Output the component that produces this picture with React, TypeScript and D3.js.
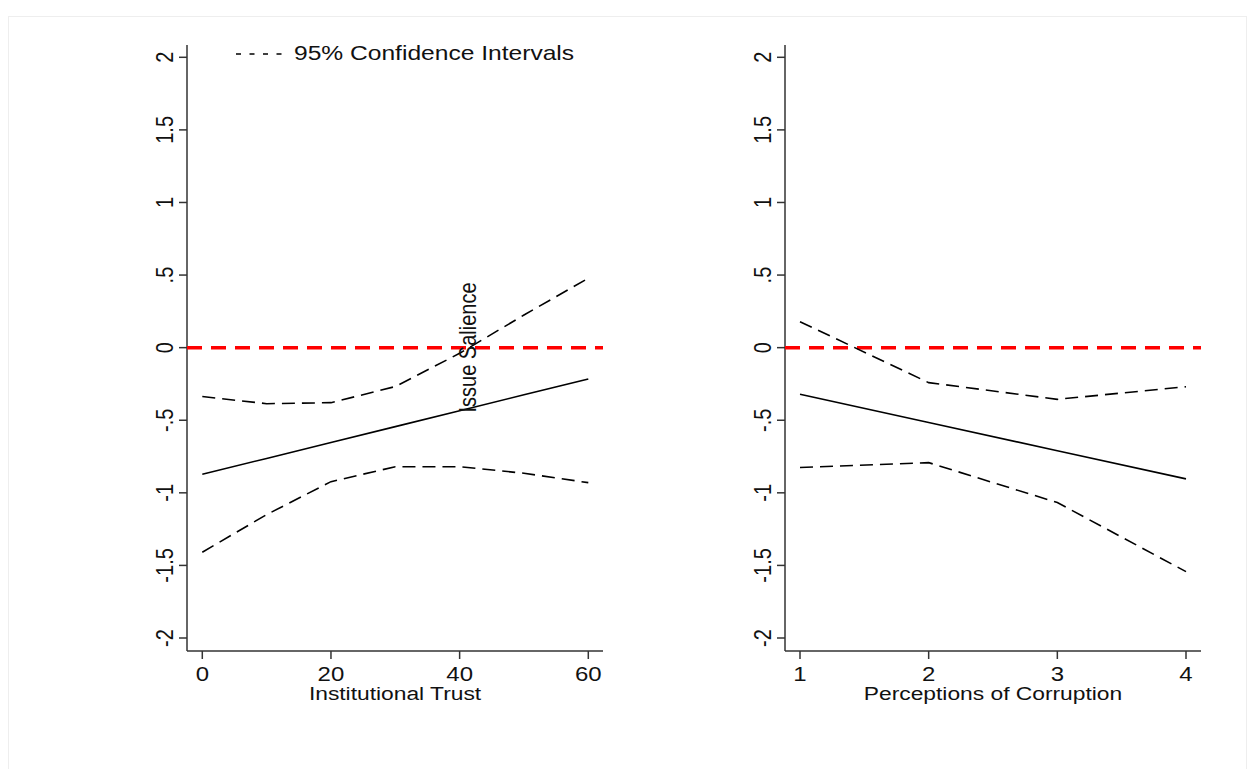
import React, { useEffect, useRef } from "react";
import * as d3 from "d3";

// left panel: institutional trust
const trustX = [0, 10, 20, 30, 40, 50, 60];
const trustEffect = [-0.872, -0.763, -0.653, -0.544, -0.435, -0.325, -0.216];
const trustUpper = [-0.337, -0.386, -0.379, -0.268, -0.039, 0.225, 0.478];
const trustLower = [-1.409, -1.15, -0.923, -0.82, -0.82, -0.865, -0.93];
const trustTicks = [0, 20, 40, 60];

// right panel: perceptions of corruption
const corrX = [1, 2, 3, 4];
const corrEffect = [-0.321, -0.515, -0.71, -0.904];
const corrUpper = [0.179, -0.241, -0.356, -0.269];
const corrLower = [-0.826, -0.792, -1.067, -1.543];
const corrTicks = [1, 2, 3, 4];

const yTicks = [-2, -1.5, -1, -0.5, 0, 0.5, 1, 1.5, 2];

const FONT = "'Liberation Sans', Arial, Helvetica, sans-serif";
const SX = 1.2; // text in the original is stretched horizontally

function fmt(v: number) {
	return String(v).replace("0.", ".");
}

export default function App() {
	const ref = useRef<SVGSVGElement>(null);

	useEffect(() => {
		const svg = d3.select(ref.current);
		svg.selectAll("*").remove();

		svg.append("rect")
			.attr("x", 8.5)
			.attr("y", 16.5)
			.attr("width", 1238)
			.attr("height", 770)
			.attr("fill", "none")
			.attr("stroke", "#eeeeee");

		const y = d3.scaleLinear().domain([-2, 2]).range([638, 57.3]);
		const axisTop = 45;
		const axisBottom = 651;

		const panels = [
			{
				xs: trustX, eff: trustEffect, up: trustUpper, lo: trustLower, ticks: trustTicks,
				domain: [0, 60], range: [202.3, 588.3], left: 187, right: 603,
				title: "Institutional Trust",
			},
			{
				xs: corrX, eff: corrEffect, up: corrUpper, lo: corrLower, ticks: corrTicks,
				domain: [1, 4], range: [800, 1186], left: 785, right: 1201,
				title: "Perceptions of Corruption",
			},
		];

		panels.forEach((p) => {
			const x = d3.scaleLinear().domain(p.domain).range(p.range);
			const g = svg.append("g");

			// axes
			g.append("line")
				.attr("x1", p.left).attr("x2", p.left)
				.attr("y1", axisTop).attr("y2", axisBottom)
				.attr("stroke", "#333").attr("stroke-width", 1.5);
			g.append("line")
				.attr("x1", p.left).attr("x2", p.right)
				.attr("y1", axisBottom).attr("y2", axisBottom)
				.attr("stroke", "#333").attr("stroke-width", 1.5);

			g.selectAll(".yt")
				.data(yTicks)
				.enter()
				.append("line")
				.attr("x1", p.left - 8).attr("x2", p.left)
				.attr("y1", (d) => y(d)).attr("y2", (d) => y(d))
				.attr("stroke", "#333").attr("stroke-width", 1.5);
			g.selectAll(".ytl")
				.data(yTicks)
				.enter()
				.append("text")
				.attr("transform", (d) => `translate(${p.left - 14},${y(d)}) scale(${SX},1) rotate(-90)`)
				.attr("text-anchor", "middle")
				.attr("font-family", FONT)
				.attr("font-size", 20)
				.attr("fill", "#111")
				.text((d) => fmt(d));

			g.selectAll(".xt")
				.data(p.ticks)
				.enter()
				.append("line")
				.attr("x1", (d) => x(d)).attr("x2", (d) => x(d))
				.attr("y1", axisBottom).attr("y2", axisBottom + 8)
				.attr("stroke", "#333").attr("stroke-width", 1.5);
			g.selectAll(".xtl")
				.data(p.ticks)
				.enter()
				.append("text")
				.attr("transform", (d) => `translate(${x(d)},681) scale(${SX},1)`)
				.attr("text-anchor", "middle")
				.attr("font-family", FONT)
				.attr("font-size", 20)
				.attr("fill", "#111")
				.text((d) => String(d));
			g.append("text")
				.attr("transform", `translate(${(p.left + p.right) / 2},700) scale(${SX},1)`)
				.attr("text-anchor", "middle")
				.attr("font-family", FONT)
				.attr("font-size", 19)
				.attr("fill", "#111")
				.text(p.title);

			// zero reference
			g.append("line")
				.attr("x1", p.left).attr("x2", p.right)
				.attr("y1", y(0)).attr("y2", y(0))
				.attr("stroke", "#ff0000").attr("stroke-width", 3.5)
				.attr("stroke-dasharray", "15 9");

			const line = (vals: number[]) =>
				d3.line<number>()
					.x((_, i) => x(p.xs[i]))
					.y((d) => y(d))(vals);

			g.append("path").attr("d", line(p.up))
				.attr("fill", "none").attr("stroke", "#000")
				.attr("stroke-width", 1.6).attr("stroke-dasharray", "13 7");
			g.append("path").attr("d", line(p.lo))
				.attr("fill", "none").attr("stroke", "#000")
				.attr("stroke-width", 1.6).attr("stroke-dasharray", "13 7");
			g.append("path").attr("d", line(p.eff))
				.attr("fill", "none").attr("stroke", "#000")
				.attr("stroke-width", 1.6);
		});

		// legend
		svg.append("line")
			.attr("x1", 236).attr("x2", 288)
			.attr("y1", 54).attr("y2", 54)
			.attr("stroke", "#000").attr("stroke-width", 1.5)
			.attr("stroke-dasharray", "5 8.5");
		svg.append("text")
			.attr("transform", `translate(294,60) scale(${SX},1)`)
			.attr("font-family", FONT)
			.attr("font-size", 20.5)
			.attr("fill", "#111")
			.text("95% Confidence Intervals");

		// y-axis title drawn inside left panel
		svg.append("text")
			.attr("transform", `translate(476,347.5) scale(${SX},1) rotate(-90)`)
			.attr("text-anchor", "middle")
			.attr("font-family", FONT)
			.attr("font-size", 20)
			.attr("fill", "#111")
			.text("Issue Salience");
	}, []);

	return (
		<svg
			ref={ref}
			width={1252}
			height={769}
			style={{ position: "absolute", left: 0, top: 0, background: "#fff" }}
		/>
	);
}
